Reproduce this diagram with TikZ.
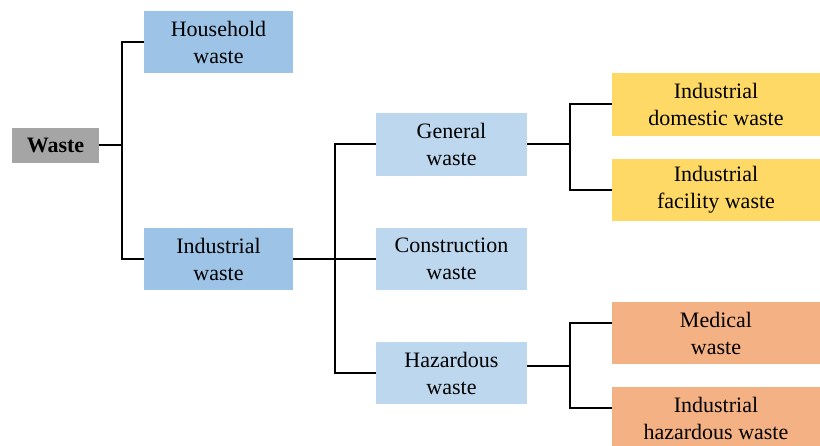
\documentclass[tikz,border=0pt]{standalone}
\usepackage{fontspec}
\setmainfont{Liberation Serif}
\definecolor{cgray}{HTML}{A5A5A5}
\definecolor{cblue}{HTML}{9DC3E6}
\definecolor{clight}{HTML}{BDD7EE}
\definecolor{cyellow}{HTML}{FFD966}
\definecolor{corange}{HTML}{F4B183}
\begin{document}
\begin{tikzpicture}[x=1pt,y=-1pt,
  box/.style={minimum width=150pt, minimum height=62pt, inner sep=0pt, align=center, font=\fontsize{22}{27}\selectfont},
  wide/.style={box, minimum width=208pt},
  link/.style={draw=black, line width=2pt}]
\useasboundingbox (0,0) rectangle (820,446);
\clip (0,0) rectangle (820,446);
\node[box, fill=cgray, minimum width=87pt, minimum height=35pt, font=\fontsize{22}{27}\selectfont\bfseries] (waste) at (55.5,145.5) {Waste};
\node[box, fill=cblue, minimum width=149pt] (household) at (218.5,42) {Household\\waste};
\node[box, fill=cblue, minimum width=149pt] (industrial) at (218.5,259) {Industrial\\waste};
\node[box, fill=clight, minimum width=151pt, minimum height=63pt] (general) at (451.5,144.5) {General\\waste};
\node[box, fill=clight, minimum width=151pt] (construction) at (451.5,259) {Construction\\waste};
\node[box, fill=clight, minimum width=151pt] (hazardous) at (451.5,373) {Hazardous\\waste};
\node[wide, fill=cyellow, minimum height=63pt] (inddom) at (716,104.5) {Industrial\\domestic waste};
\node[wide, fill=cyellow] (indfac) at (716,190) {Industrial\\facility waste};
\node[wide, fill=corange] (medical) at (716,333) {Medical\\waste};
\node[wide, fill=corange] (indhaz) at (716,418) {Industrial\\hazardous waste};
\coordinate (j1) at (122,145.5);
\coordinate (j2) at (335,259);
\coordinate (j3) at (570,144.5);
\coordinate (j4) at (570,366);
\draw[link] (waste.east) -- (j1);
\draw[link] (household.west) -| (j1) |- (industrial.west);
\draw[link] (industrial.east) -- (j2);
\draw[link] (general.west) -| (j2) |- (hazardous.west);
\draw[link] (j2) -- (construction.west);
\draw[link] (general.east) -- (j3);
\draw[link] (inddom.west) -| (j3) |- (indfac.west);
\draw[link] ([yshift=7pt]hazardous.east) -- (j4);
\draw[link] ([yshift=10pt]medical.west) -| (j4) |- ([yshift=10pt]indhaz.west);
\end{tikzpicture}
\end{document}
